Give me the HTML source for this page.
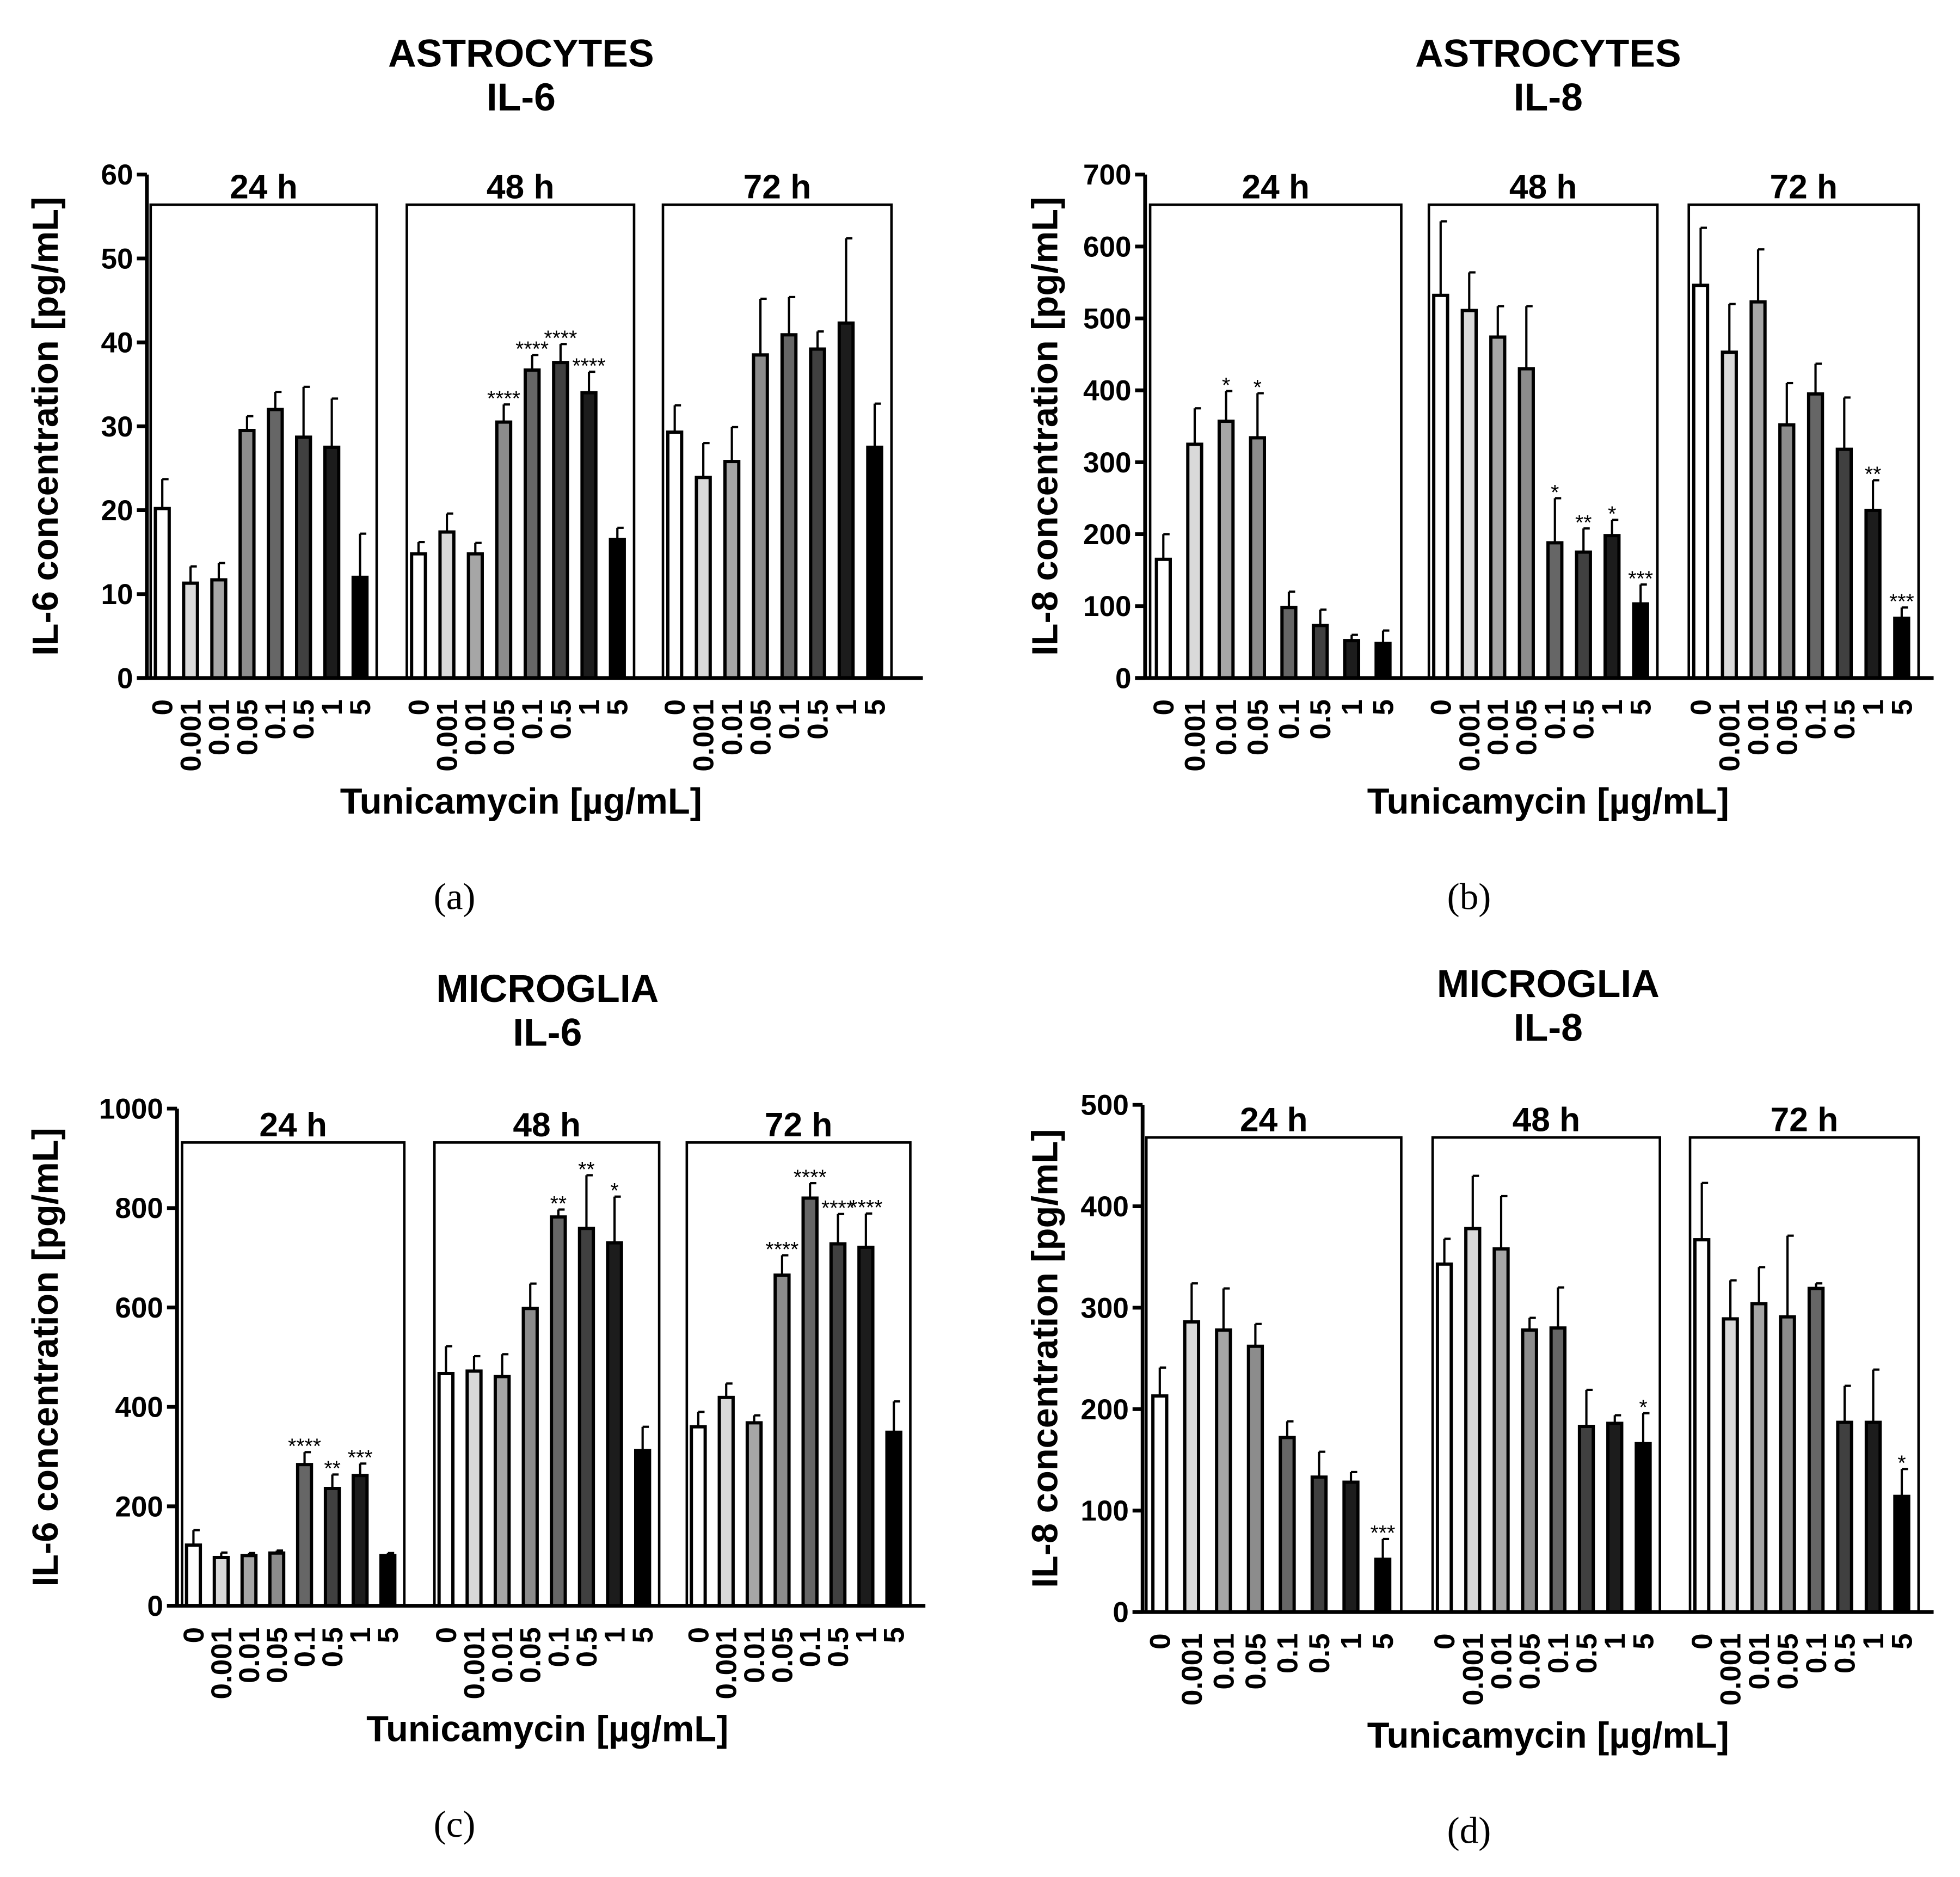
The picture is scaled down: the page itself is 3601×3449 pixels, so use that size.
<!DOCTYPE html>
<html><head><meta charset="utf-8"><style>
html,body{margin:0;padding:0;background:#fff}
svg{display:block}
text{font-family:"Liberation Sans",Arial,sans-serif;font-weight:bold;fill:#000}
.sub{font-family:"Liberation Serif",serif;font-weight:normal}
</style></head><body>
<svg id="fig" width="3601" height="3449" viewBox="0 0 1561 1495" xmlns="http://www.w3.org/2000/svg"></svg>
<script>
const concLabels = ["0","0.001","0.01","0.05","0.1","0.5","1","5"];
const timeLabels = ["24 h","48 h","72 h"];
const barColors = ["#ffffff","#d9d9d9","#a6a6a6","#8c8c8c","#666666","#404040","#1c1c1c","#000000"];

// Panel a: Astrocytes IL-6
const aTicks = [0,10,20,30,40,50,60];
const aVals = [[20.2,11.3,11.7,29.5,32,28.7,27.5,12],[14.8,17.4,14.8,30.5,36.7,37.6,34,16.5],[29.3,23.9,25.8,38.5,40.9,39.2,42.3,27.5]];
const aErr = [[3.5,2,2,1.7,2.1,6,5.8,5.2],[1.4,2.2,1.3,2.1,1.8,2.2,2.5,1.4],[3.2,4.1,4.1,6.7,4.5,2.1,10.1,5.2]];
const aStars = [["","","","","","","",""],["","","","****","****","****","****",""],["","","","","","","",""]];
// Panel b: Astrocytes IL-8
const bTicks = [0,100,200,300,400,500,600,700];
const bVals = [[165,325,357,334,98,73,52,48],[532,511,474,430,188,175,198,103],[546,453,523,352,395,318,233,83]];
const bErr = [[35,50,42,62,22,22,8,18],[103,53,43,87,62,33,22,27],[80,67,73,58,42,72,42,15]];
const bStars = [["","","*","*","","","",""],["","","","","*","**","*","***"],["","","","","","","**","***"]];
// Panel c: Microglia IL-6
const cTicks = [0,200,400,600,800,1000];
const cVals = [[122,97,101,106,284,236,262,101],[467,472,461,598,782,759,730,312],[360,419,368,665,820,728,721,349]];
const cErr = [[30,10,5,5,25,28,24,5],[55,30,45,50,15,107,93,48],[30,28,15,40,30,60,68,62]];
const cStars = [["","","","","****","**","***",""],["","","","","**","**","*",""],["","","","****","****","****","****",""]];
// Panel d: Microglia IL-8
const dTicks = [0,100,200,300,400,500];
const dVals = [[213,286,278,262,172,133,128,52],[343,378,358,278,280,183,186,166],[367,289,304,291,319,187,187,114]];
const dErr = [[28,38,41,22,16,25,10,20],[25,52,52,12,40,36,8,30],[56,38,36,80,5,36,52,27]];
const dStars = [["","","","","","","","***"],["","","","","","","","*"],["","","","","","","","*"]];

const NS="http://www.w3.org/2000/svg";
const svg=document.getElementById('fig');
function mk(tag,attrs,parent){const e=document.createElementNS(NS,tag);for(const k in attrs)e.setAttribute(k,attrs[k]);(parent||svg).appendChild(e);return e;}

function panel(cfg){
  const g=mk('g',{});
  
  
  const max=cfg.ticks[cfg.ticks.length-1];
  const y=v=>cfg.y0-(v/max)*(cfg.y0-cfg.yTop);
  const t1=mk('text',{x:cfg.cx,y:cfg.titleY,'font-size':31,'text-anchor':'middle'},g);t1.textContent=cfg.title1;
  
  const t2=mk('text',{x:cfg.cx,y:cfg.titleY+35,'font-size':31,'text-anchor':'middle'},g);t2.textContent=cfg.title2;
  
  cfg.boxes.forEach((b,gi)=>{
    const r=mk('rect',{x:b[0],y:cfg.boxTop,width:b[1]-b[0],height:cfg.y0-cfg.boxTop,fill:'none',stroke:'#000','stroke-width':2},g);
    
    const tl=mk('text',{x:(b[0]+b[1])/2,y:cfg.boxTop-5,'font-size':27,'text-anchor':'middle'},g);tl.textContent=timeLabels[gi];
    
    const sp=(b[1]-b[0])/8;
    cfg.vals[gi].forEach((v,i)=>{
      const cx=b[0]+sp*(i+0.5)-2, w=11;
      const yt=y(v), ye=y(v+cfg.err[gi][i]);
      const ln=mk('line',{x1:cx,x2:cx,y1:yt,y2:ye,stroke:'#000','stroke-width':1.8},g);
      
      mk('line',{x1:cx,x2:cx+5,y1:ye,y2:ye,stroke:'#000','stroke-width':1.8},g);
      const bar=mk('rect',{x:cx-w/2,y:yt,width:w,height:cfg.y0-yt,fill:barColors[i],stroke:'#000','stroke-width':2.6},g);
      
      
      if(cfg.stars[gi][i]){
        const s=mk('text',{x:cx,y:ye+1,'font-size':17,'text-anchor':'middle',style:'font-weight:normal'},g);s.textContent=cfg.stars[gi][i];
        
      }
      const xl=mk('text',{transform:`translate(${cx+8},${cfg.y0+17}) rotate(-90)`,'font-size':23,'text-anchor':'end'},g);
      xl.textContent=concLabels[i];
      
    });
  });
  const ya=mk('line',{x1:cfg.ax,x2:cfg.ax,y1:cfg.yTop,y2:cfg.y0+1,stroke:'#000','stroke-width':3},g);
  
  const xa=mk('line',{x1:cfg.ax-8,x2:cfg.xEnd,y1:cfg.y0,y2:cfg.y0,stroke:'#000','stroke-width':3},g);
  
  cfg.ticks.forEach(t=>{
    mk('line',{x1:cfg.ax-8,x2:cfg.ax,y1:y(t),y2:y(t),stroke:'#000','stroke-width':3},g);
    const tl=mk('text',{x:cfg.ax-11,y:y(t)+8,'font-size':23,'text-anchor':'end'},g);tl.textContent=t;
    
  });
  const yt=mk('text',{transform:`translate(${cfg.ytX},${(cfg.yTop+cfg.y0)/2}) rotate(-90)`,'font-size':29,'text-anchor':'middle'},g);
  yt.textContent=cfg.ytitle;
  const xt=mk('text',{x:cfg.cx,y:cfg.y0+108,'font-size':29,'text-anchor':'middle'},g);
  xt.textContent='Tunicamycin [µg/mL]';
  const sl=mk('text',{x:cfg.labX,y:cfg.y0+184,'font-size':30,'text-anchor':'middle','class':'sub'},g);
  sl.textContent=cfg.label;
}

panel({name:'panel-a',title1:'ASTROCYTES',title2:'IL-6',cx:415,titleY:53,ticks:aTicks,vals:aVals,err:aErr,stars:aStars,
  ax:117,yTop:139,y0:540,xEnd:735,boxTop:163,boxes:[[120,300],[324,505],[528,710]],ytX:46,ytitle:'IL-6 concentration [pg/mL]',labX:362,label:'(a)'});
panel({name:'panel-b',title1:'ASTROCYTES',title2:'IL-8',cx:1233,titleY:53,ticks:bTicks,vals:bVals,err:bErr,stars:bStars,
  ax:912,yTop:139,y0:540,xEnd:1540,boxTop:163,boxes:[[916,1116],[1138,1320],[1345,1528]],ytX:842,ytitle:'IL-8 concentration [pg/mL]',labX:1170,label:'(b)'});
panel({name:'panel-c',title1:'MICROGLIA',title2:'IL-6',cx:436,titleY:798,ticks:cTicks,vals:cVals,err:cErr,stars:cStars,
  ax:141,yTop:883,y0:1279,xEnd:737,boxTop:910,boxes:[[145,322],[346,525],[547,725]],ytX:46,ytitle:'IL-6 concentration [pg/mL]',labX:362,label:'(c)'});
panel({name:'panel-d',title1:'MICROGLIA',title2:'IL-8',cx:1233,titleY:794,ticks:dTicks,vals:dVals,err:dErr,stars:dStars,
  ax:910,yTop:880,y0:1284,xEnd:1540,boxTop:906,boxes:[[913,1116],[1141,1322],[1346,1528]],ytX:842,ytitle:'IL-8 concentration [pg/mL]',labX:1170,label:'(d)'});
</script>
</body></html>
